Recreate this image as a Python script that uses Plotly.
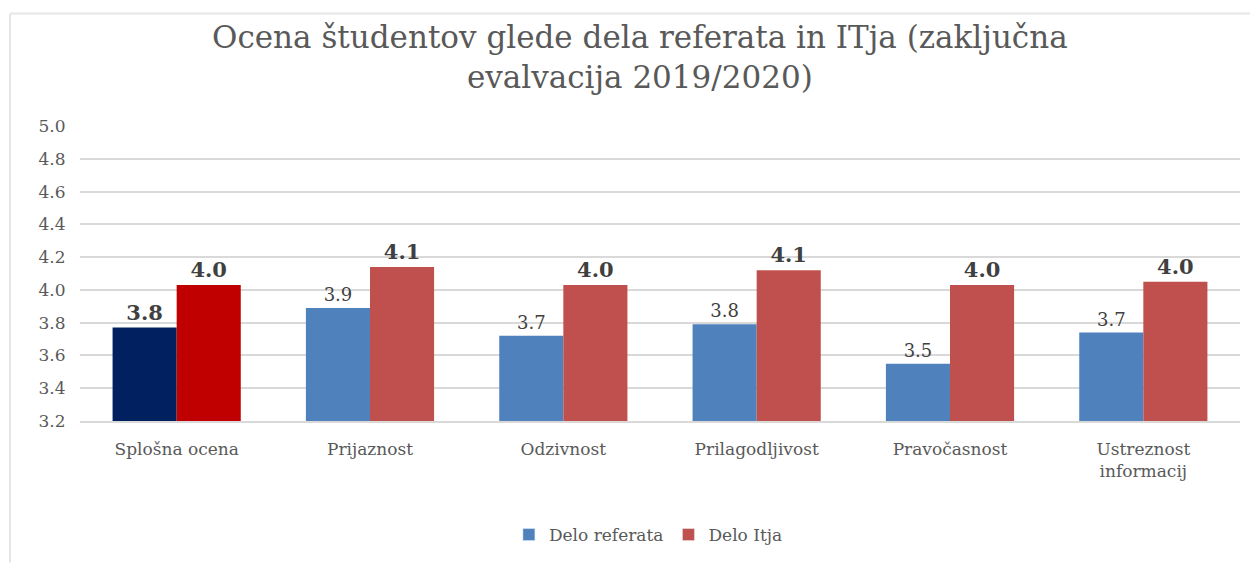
import plotly.graph_objects as go

categories = ["Splošna ocena", "Prijaznost", "Odzivnost", "Prilagodljivost", "Pravočasnost", "Ustreznost<br>informacij"]
delo_referata = [3.77, 3.89, 3.72, 3.79, 3.55, 3.74]
delo_itja = [4.03, 4.14, 4.03, 4.12, 4.03, 4.05]
y_ticks = [3.2, 3.4, 3.6, 3.8, 4.0, 4.2, 4.4, 4.6, 4.8, 5.0]
series_names = ["Delo referata", "Delo Itja"]

blue = "#4F81BD"
red = "#C0504D"
blue_colors = ["#002060"] + [blue] * 5
red_colors = ["#C00000"] + [red] * 5

ref_text = [f"<b>{v:.1f}</b>" if i == 0 else f"{v:.1f}" for i, v in enumerate(delo_referata)]
ref_sizes = [21] + [18] * 5
itja_text = [f"<b>{v:.1f}</b>" for v in delo_itja]

FONT = "DejaVu Serif"

fig = go.Figure()
fig.add_trace(go.Bar(
    name=series_names[0], x=categories, y=delo_referata, offsetgroup="a",
    marker=dict(color=blue_colors, line=dict(width=0)),
    text=ref_text, textposition="outside", textangle=0,
    textfont=dict(family=FONT, size=ref_sizes, color="#404040"),
    cliponaxis=False, showlegend=False, hoverinfo="x+y",
))
fig.add_trace(go.Bar(
    name=series_names[1], x=categories, y=delo_itja, offsetgroup="b",
    marker=dict(color=red_colors, line=dict(width=0)),
    text=itja_text, textposition="outside", textangle=0,
    textfont=dict(family=FONT, size=21, color="#404040"),
    cliponaxis=False, showlegend=False, hoverinfo="x+y",
))
# legend entries with the series' standard colours (zero-height, out of the visible range)
fig.add_trace(go.Bar(name=series_names[0], x=categories[:1], y=[0], offsetgroup="a",
                     marker=dict(color=blue), hoverinfo="skip", showlegend=True))
fig.add_trace(go.Bar(name=series_names[1], x=categories[:1], y=[0], offsetgroup="b",
                     marker=dict(color=red), hoverinfo="skip", showlegend=True))

W, H = 1252, 564
ml, mr, mt, mb = 80, 12, 126, 142
pw, ph = W - ml - mr, H - mt - mb

fig.update_layout(
    width=W, height=H,
    margin=dict(l=ml, r=mr, t=mt, b=mb),
    paper_bgcolor="white", plot_bgcolor="white",
    barmode="group", bargap=0.337, bargroupgap=0,
    font=dict(family=FONT, color="#595959"),
    legend=dict(
        orientation="h", x=0.49, xanchor="center", y=-(535 - (mt + ph)) / ph, yanchor="middle",
        font=dict(family=FONT, size=17, color="#595959"),
        traceorder="normal",
    ),
    showlegend=True,
)
fig.add_annotation(
    text="Ocena študentov glede dela referata in ITja (zaključna<br>evalvacija 2019/2020)",
    xref="paper", yref="paper", x=(640 - ml) / pw, xanchor="center",
    y=1 + (mt - 17) / ph, yanchor="top", showarrow=False,
    font=dict(family=FONT, size=31, color="#595959"),
)
fig.update_yaxes(
    range=[3.2, 5.0], tickvals=y_ticks, tickformat=".1f",
    showgrid=True, gridcolor="#D9D9D9", gridwidth=1.5,
    zeroline=False, showline=False,
    tickfont=dict(family=FONT, size=17, color="#595959"),
    ticks="outside", ticklen=10, tickcolor="rgba(0,0,0,0)",
)
fig.update_xaxes(
    showline=True, linecolor="#D9D9D9", linewidth=1.5,
    tickfont=dict(family=FONT, size=17, color="#595959"),
    ticks="outside", ticklen=12, tickcolor="rgba(0,0,0,0)",
)
# outer chart frame (top and left edges visible in the reference)
fig.add_shape(
    type="line", xref="paper", yref="paper",
    x0=(10 - ml) / pw, x1=(1250 - ml) / pw,
    y0=1 + (mt - 13) / ph, y1=1 + (mt - 13) / ph,
    line=dict(color="#E6E6E6", width=2), layer="below",
)
fig.add_shape(
    type="line", xref="paper", yref="paper",
    x0=(10 - ml) / pw, x1=(10 - ml) / pw,
    y0=1 + (mt - 13) / ph, y1=-(H - mt - ph) / ph,
    line=dict(color="#E6E6E6", width=2), layer="below",
)

fig.write_html("out.html", config={"displayModeBar": False},
               post_script="document.body.style.margin='0';")
